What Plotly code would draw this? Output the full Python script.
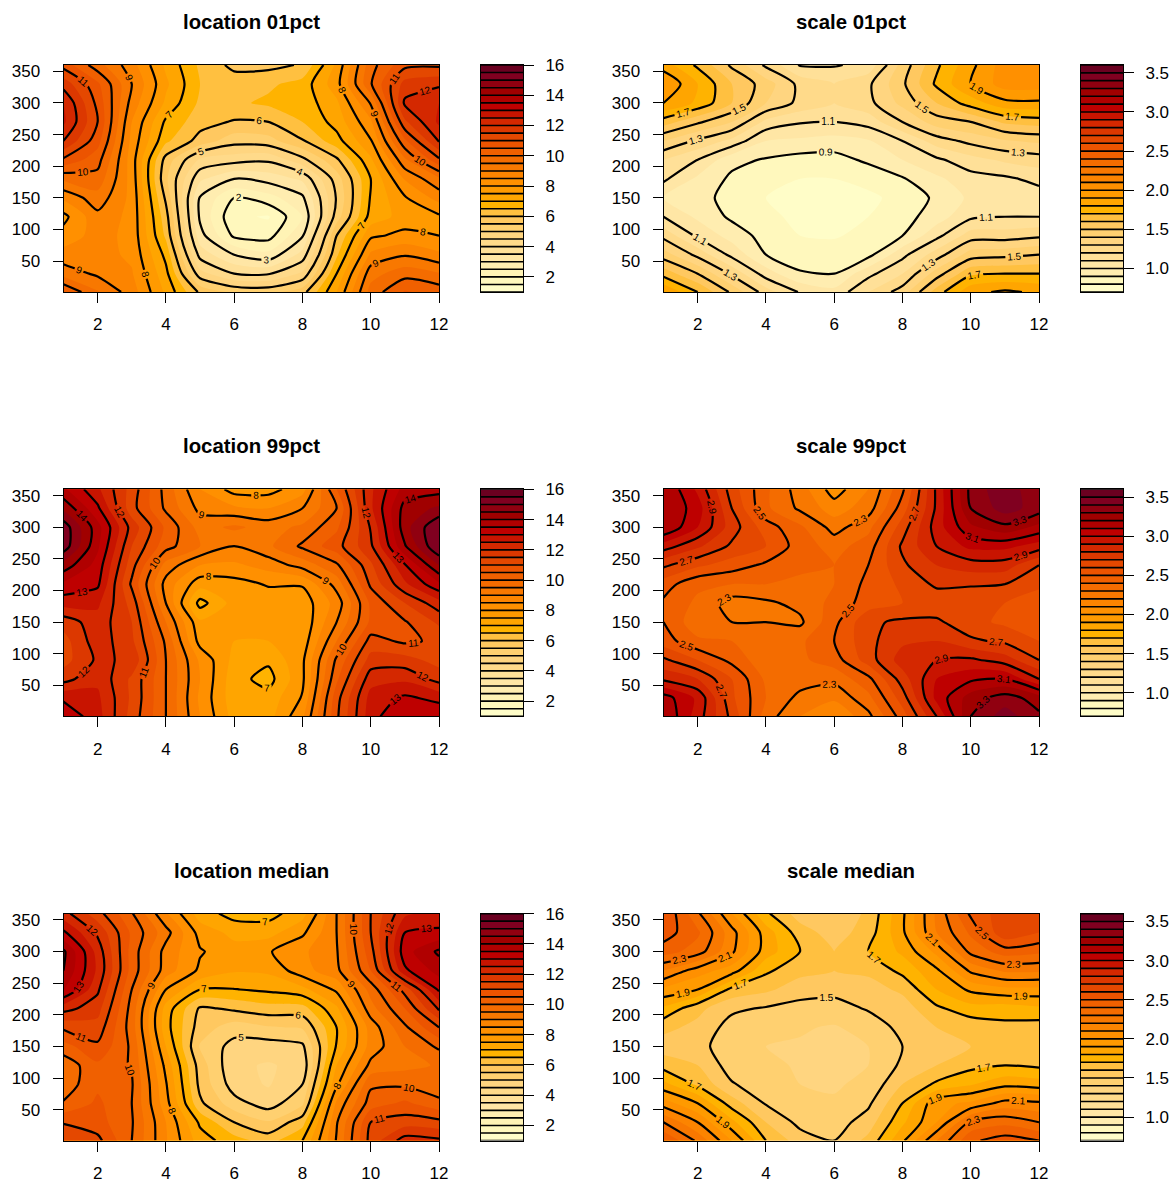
import numpy as np
import plotly.graph_objects as go

months = list(range(1, 13))
days = [360, 330, 300, 270, 240, 210, 180, 150, 120, 90, 60, 30, 1]

location_01pct = [
    [10.8, 9.7, 8.7, 7.4, 6.4, 5.85, 5.85, 6.05, 7.6, 9.8, 10.85, 10.9],
    [11.8, 10.6, 9.0, 7.6, 6.5, 6.3, 6.4, 6.7, 7.8, 9.95, 11.7, 11.9],
    [12.5, 10.85, 8.8, 7.4, 6.4, 6.4, 6.6, 6.7, 7.4, 9.05, 12.1, 12.5],
    [12.6, 11.0, 8.5, 6.9, 6.2, 5.95, 6.0, 6.5, 7.2, 8.4, 11.4, 12.6],
    [12.0, 10.7, 8.35, 6.6, 5.8, 5.2, 5.3, 5.95, 6.8, 7.95, 10.4, 12.05],
    [10.9, 10.2, 8.25, 5.8, 4.4, 4.2, 4.1, 4.85, 5.9, 7.4, 9.4, 10.9],
    [9.6, 9.8, 8.3, 5.6, 3.6, 3.0, 3.2, 3.6, 5.25, 7.0, 8.55, 9.4],
    [8.6, 9.3, 8.35, 5.9, 2.95, 2.0, 2.3, 2.9, 5.05, 7.05, 7.95, 8.7],
    [7.85, 8.85, 8.35, 6.2, 2.9, 1.6, 1.45, 2.5, 5.25, 7.2, 7.7, 7.9],
    [8.2, 8.7, 8.35, 6.4, 3.2, 1.9, 1.8, 2.95, 6.0, 7.9, 8.15, 8.0],
    [8.7, 8.7, 8.4, 6.85, 3.8, 3.0, 2.65, 3.7, 6.4, 8.6, 8.95, 8.6],
    [9.3, 8.9, 8.55, 7.15, 4.7, 4.0, 3.95, 4.6, 7.0, 9.3, 9.8, 9.55],
    [10.5, 9.55, 8.75, 7.4, 5.9, 5.4, 5.35, 5.8, 7.5, 9.7, 10.55, 10.3],
]

location_99pct = [
    [13.6, 12.6, 11.3, 9.8, 8.5, 7.8, 7.8, 8.3, 10.5, 12.4, 13.7, 13.8],
    [14.4, 13.1, 11.2, 9.9, 8.85, 8.6, 8.5, 9.0, 10.0, 12.4, 14.2, 14.6],
    [15.3, 13.7, 11.8, 10.4, 9.3, 9.6, 9.3, 9.6, 10.4, 12.05, 14.3, 15.5],
    [15.3, 13.6, 11.5, 10.2, 9.5, 9.0, 9.4, 10.1, 10.8, 11.9, 13.95, 15.5],
    [14.3, 13.3, 11.2, 9.3, 8.5, 8.4, 8.7, 9.2, 9.9, 11.4, 12.95, 14.5],
    [13.4, 13.1, 10.9, 8.8, 7.7, 7.8, 8.05, 8.05, 9.2, 11.1, 12.4, 13.4],
    [12.7, 12.6, 11.3, 9.0, 6.8, 7.7, 7.7, 7.7, 8.7, 10.6, 11.5, 12.3],
    [11.7, 12.3, 11.5, 9.5, 7.6, 7.65, 7.6, 7.6, 9.0, 10.6, 10.95, 11.6],
    [11.3, 12.3, 11.6, 9.9, 7.8, 7.5, 7.5, 7.7, 9.5, 11.2, 10.9, 11.1],
    [11.3, 12.1, 11.9, 10.0, 8.4, 7.35, 7.1, 7.9, 10.1, 11.7, 11.7, 11.3],
    [11.8, 12.4, 11.4, 10.0, 8.5, 7.2, 6.8, 7.9, 10.4, 12.3, 12.4, 11.8],
    [12.9, 12.6, 11.4, 10.0, 8.4, 7.2, 7.2, 8.05, 10.8, 12.7, 13.1, 12.85],
    [13.4, 12.7, 11.3, 10.0, 8.5, 7.3, 7.3, 8.4, 10.9, 12.8, 13.5, 13.4],
]

location_median = [
    [12.2, 11.2, 10.05, 8.55, 7.25, 6.8, 6.8, 7.3, 9.0, 11.0, 12.4, 12.7],
    [13.1, 11.9, 10.4, 9.2, 7.8, 7.35, 7.3, 7.9, 9.0, 11.0, 13.0, 13.1],
    [14.1, 12.3, 10.3, 8.8, 8.05, 7.7, 7.95, 8.4, 8.95, 10.8, 13.3, 14.1],
    [14.0, 12.4, 10.3, 8.75, 7.9, 7.55, 7.6, 8.3, 8.85, 10.5, 12.9, 13.7],
    [13.6, 12.1, 10.0, 8.0, 7.0, 6.98, 7.1, 7.35, 8.1, 9.7, 11.2, 13.1],
    [12.2, 11.7, 9.8, 7.3, 5.9, 6.1, 6.3, 6.3, 7.4, 9.3, 10.5, 12.1],
    [11.1, 11.3, 9.75, 7.2, 5.75, 5.25, 5.45, 5.55, 7.0, 8.7, 9.9, 11.0],
    [10.3, 10.9, 9.9, 7.5, 5.45, 4.8, 4.75, 4.9, 7.05, 8.7, 9.5, 10.1],
    [9.65, 10.4, 9.95, 7.85, 5.75, 4.6, 4.45, 4.65, 7.5, 9.15, 9.35, 9.55],
    [9.7, 10.4, 10.05, 8.05, 5.85, 4.75, 4.45, 5.0, 7.9, 9.9, 9.9, 9.65],
    [10.05, 10.6, 10.0, 8.2, 6.1, 5.2, 4.75, 5.4, 8.6, 10.25, 10.6, 10.15],
    [10.95, 10.7, 10.05, 8.5, 6.9, 6.0, 5.55, 6.3, 8.95, 11.0, 11.25, 11.15],
    [11.5, 11.15, 10.0, 8.55, 7.25, 6.7, 6.3, 7.0, 9.05, 11.2, 12.25, 12.1],
]

scale_01pct = [
    [1.85, 1.68, 1.48, 1.28, 1.09, 1.09, 1.13, 1.44, 1.68, 1.87, 2.05, 2.05],
    [2.0, 1.8, 1.6, 1.45, 1.27, 1.2, 1.28, 1.48, 1.72, 1.9, 2.05, 2.05],
    [1.9, 1.78, 1.6, 1.4, 1.27, 1.2, 1.27, 1.43, 1.6, 1.75, 1.87, 1.88],
    [1.65, 1.52, 1.4, 1.17, 1.11, 1.1, 1.14, 1.3, 1.45, 1.5, 1.62, 1.65],
    [1.4, 1.28, 1.17, 1.0, 0.98, 0.96, 0.99, 1.1, 1.25, 1.33, 1.39, 1.42],
    [1.2, 1.1, 0.93, 0.89, 0.86, 0.86, 0.92, 1.0, 1.08, 1.16, 1.22, 1.25],
    [1.12, 0.98, 0.88, 0.82, 0.8, 0.8, 0.83, 0.89, 0.98, 1.06, 1.08, 1.13],
    [1.0, 0.94, 0.86, 0.8, 0.77, 0.76, 0.78, 0.83, 0.92, 1.02, 1.03, 1.05],
    [1.1, 0.98, 0.88, 0.82, 0.78, 0.77, 0.8, 0.86, 0.95, 1.08, 1.1, 1.1],
    [1.27, 1.08, 0.96, 0.86, 0.8, 0.79, 0.83, 0.9, 1.07, 1.25, 1.25, 1.28],
    [1.45, 1.27, 1.07, 0.9, 0.85, 0.85, 0.87, 1.07, 1.25, 1.45, 1.47, 1.5],
    [1.66, 1.5, 1.28, 1.05, 0.91, 0.9, 1.07, 1.2, 1.45, 1.68, 1.7, 1.7],
    [1.9, 1.7, 1.48, 1.25, 1.09, 1.03, 1.2, 1.35, 1.65, 1.87, 1.92, 1.88],
]

scale_99pct = [
    [3.2, 2.98, 2.65, 2.42, 2.25, 2.05, 2.2, 2.48, 2.92, 3.33, 3.48, 3.3],
    [3.2, 3.05, 2.7, 2.42, 2.28, 2.15, 2.25, 2.55, 2.92, 3.3, 3.45, 3.35],
    [3.2, 3.0, 2.75, 2.55, 2.42, 2.26, 2.37, 2.65, 2.95, 3.18, 3.27, 3.17],
    [2.95, 2.82, 2.68, 2.6, 2.45, 2.36, 2.45, 2.72, 2.9, 3.03, 3.03, 2.95],
    [2.72, 2.62, 2.55, 2.48, 2.42, 2.4, 2.5, 2.68, 2.8, 2.85, 2.85, 2.7],
    [2.55, 2.42, 2.4, 2.4, 2.38, 2.4, 2.53, 2.62, 2.72, 2.71, 2.7, 2.62],
    [2.48, 2.38, 2.25, 2.28, 2.33, 2.43, 2.55, 2.6, 2.63, 2.63, 2.6, 2.55],
    [2.5, 2.33, 2.3, 2.3, 2.28, 2.47, 2.68, 2.72, 2.72, 2.63, 2.58, 2.55],
    [2.55, 2.42, 2.4, 2.37, 2.38, 2.5, 2.67, 2.78, 2.8, 2.72, 2.68, 2.6],
    [2.72, 2.6, 2.47, 2.33, 2.38, 2.45, 2.65, 2.85, 2.9, 2.92, 2.85, 2.7],
    [2.88, 2.8, 2.6, 2.38, 2.35, 2.33, 2.47, 2.75, 3.0, 3.08, 3.1, 2.9],
    [3.15, 2.98, 2.62, 2.4, 2.27, 2.22, 2.37, 2.65, 3.03, 3.25, 3.35, 3.25],
    [3.2, 2.95, 2.67, 2.35, 2.2, 2.1, 2.27, 2.55, 2.9, 3.3, 3.45, 3.32],
]

scale_median = [
    [2.6, 2.32, 2.0, 1.72, 1.55, 1.52, 1.62, 1.88, 2.22, 2.52, 2.66, 2.62],
    [2.55, 2.42, 2.14, 1.85, 1.65, 1.55, 1.65, 1.88, 2.2, 2.42, 2.68, 2.6],
    [2.45, 2.35, 2.12, 1.85, 1.7, 1.6, 1.7, 1.82, 2.03, 2.33, 2.45, 2.42],
    [2.2, 2.05, 1.95, 1.72, 1.63, 1.6, 1.62, 1.73, 1.88, 2.12, 2.22, 2.22],
    [1.98, 1.9, 1.67, 1.62, 1.55, 1.53, 1.56, 1.62, 1.8, 1.92, 1.97, 1.97],
    [1.78, 1.63, 1.52, 1.49, 1.46, 1.46, 1.51, 1.55, 1.68, 1.76, 1.75, 1.78],
    [1.63, 1.57, 1.46, 1.43, 1.41, 1.39, 1.44, 1.53, 1.6, 1.63, 1.67, 1.65],
    [1.55, 1.54, 1.43, 1.4, 1.39, 1.38, 1.4, 1.5, 1.56, 1.6, 1.63, 1.62],
    [1.66, 1.6, 1.45, 1.42, 1.39, 1.38, 1.4, 1.52, 1.6, 1.67, 1.7, 1.68],
    [1.83, 1.68, 1.51, 1.44, 1.4, 1.39, 1.42, 1.6, 1.72, 1.79, 1.87, 1.85],
    [2.05, 1.9, 1.65, 1.49, 1.42, 1.41, 1.48, 1.7, 1.97, 2.02, 2.14, 2.12],
    [2.3, 2.1, 1.83, 1.6, 1.47, 1.45, 1.55, 1.78, 2.0, 2.32, 2.37, 2.3],
    [2.5, 2.28, 2.0, 1.7, 1.55, 1.5, 1.63, 1.88, 2.2, 2.48, 2.55, 2.5],
]

location_colors = [
    "#FFFDC8", "#FFF8BD", "#FFF3B5", "#FFEDB0", "#FFE6A5", "#FFE098", "#FFDA8A", "#FFD580",
    "#FFD070", "#FFC860", "#FFC040", "#FFB300", "#FFA500", "#FF9A00", "#FF9000", "#FC8400",
    "#F87800", "#F46C00", "#F06000", "#EC5400", "#E44800", "#DC3800", "#D42800", "#C81400",
    "#BE0000", "#B00000", "#A00000", "#900010", "#800020", "#6B0020",
]
scale_colors = [c for c in location_colors if c != "#FFF3B5"]

location_ticks = [2, 4, 6, 8, 10, 12, 14, 16]
scale_ticks = [1.0, 1.5, 2.0, 2.5, 3.0, 3.5]
x_ticks = [2, 4, 6, 8, 10, 12]
y_ticks = [50, 100, 150, 200, 250, 300, 350]

panels = [
    ("location 01pct", location_01pct, "loc", 0, 0),
    ("scale 01pct", scale_01pct, "sca", 1, 0),
    ("location 99pct", location_99pct, "loc", 0, 1),
    ("scale 99pct", scale_99pct, "sca", 1, 1),
    ("location median", location_median, "loc", 0, 2),
    ("scale median", scale_median, "sca", 1, 2),
]

W, H = 1173, 1180
FONT = "Liberation Sans, Arial, sans-serif"
SPEC = {
    "loc": dict(lo=1.0, hi=16.0, step=0.5, colors=location_colors, ticks=location_ticks,
                fmt="d", lstart=1, lend=16, lstep=1),
    "sca": dict(lo=0.7, hi=3.6, step=0.1, colors=scale_colors, ticks=scale_ticks,
                fmt=".1f", lstart=0.9, lend=3.5, lstep=0.2),
}


def fx(px):
    return px / W


def fy(py):
    return 1 - py / H


def step_scale(colors):
    n = len(colors)
    out = []
    for i, c in enumerate(colors):
        out += [[i / n, c], [(i + 1) / n, c]]
    return out


fig = go.Figure()
layout = {}
annotations = []
AXIS = dict(showgrid=False, zeroline=False, showline=True, linecolor="black", linewidth=1,
            mirror=True, ticks="outside", ticklen=10, tickwidth=1, tickcolor="black",
            automargin=False, tickfont=dict(family=FONT, size=17, color="black"))

for i, (title, rows, kind, col, row) in enumerate(panels):
    s = SPEC[kind]
    z = np.array(rows)[::-1]
    y = days[::-1]
    n = 2 * i + 1
    xa, ya = f"x{n}", f"y{n}"
    xc, yc = f"x{n + 1}", f"y{n + 1}"
    px0 = 63.5 + 600 * col
    px1 = 439 + 600 * col
    py0 = 65 + 424.3 * row
    py1 = 292 + 424.3 * row
    cs = step_scale(s["colors"])

    fig.add_trace(go.Contour(
        x=months, y=y, z=z, xaxis=xa, yaxis=ya, colorscale=cs, zmin=s["lo"], zmax=s["hi"],
        autocontour=False, showscale=False, hoverinfo="skip",
        contours=dict(start=s["lo"], end=s["hi"], size=s["step"], coloring="fill"),
        line=dict(width=0, smoothing=0.7),
    ))
    fig.add_trace(go.Contour(
        x=months, y=y, z=z, xaxis=xa, yaxis=ya, autocontour=False, showscale=False,
        hoverinfo="skip",
        contours=dict(start=s["lstart"], end=s["lend"], size=s["lstep"], coloring="none",
                      showlabels=True,
                      labelfont=dict(family=FONT, size=10, color="black"),
                      labelformat=".1f" if kind == "sca" else "d"),
        line=dict(width=2.2, color="black", smoothing=0.7),
    ))

    layout[f"xaxis{n}"] = dict(AXIS, domain=[fx(px0), fx(px1)], anchor=ya, range=[1, 12],
                               tickvals=x_ticks, ticklabelstandoff=7)
    layout[f"yaxis{n}"] = dict(AXIS, domain=[fy(py1), fy(py0)], anchor=xa, range=[1, 360],
                               tickvals=y_ticks, ticklabelstandoff=9)

    levels = np.arange(len(s["colors"]) + 1) * s["step"] + s["lo"]
    mids = (levels[:-1] + levels[1:]) / 2
    fig.add_trace(go.Heatmap(
        x=[0, 1], y=levels, z=mids.reshape(-1, 1), xaxis=xc, yaxis=yc, colorscale=cs,
        zmin=s["lo"], zmax=s["hi"], showscale=False, hoverinfo="skip",
    ))
    sx, sy = [], []
    for lv in levels:
        sx += [0, 1, None]
        sy += [lv, lv, None]
    fig.add_trace(go.Scatter(x=sx, y=sy, xaxis=xc, yaxis=yc, mode="lines",
                             line=dict(color="black", width=1.6), hoverinfo="skip",
                             showlegend=False))
    bx0 = 481 + 600 * col
    bx1 = 523 + 600 * col
    layout[f"xaxis{n + 1}"] = dict(domain=[fx(bx0), fx(bx1)], anchor=yc, range=[0, 1],
                                   showgrid=False, zeroline=False, showticklabels=False,
                                   ticks="", showline=True, linecolor="black", linewidth=1,
                                   mirror=True, automargin=False)
    layout[f"yaxis{n + 1}"] = dict(AXIS, domain=[fy(py1), fy(py0)], anchor=xc, side="right",
                                   range=[s["lo"], s["hi"]], tickvals=s["ticks"],
                                   tickformat=".1f" if kind == "sca" else "d",
                                   ticklabelstandoff=8)
    annotations.append(dict(
        text=f"<b>{title}</b>", xref="paper", yref="paper", x=fx((px0 + px1) / 2),
        y=fy(22 + 424.3 * row), xanchor="center", yanchor="middle", showarrow=False,
        font=dict(family=FONT, size=20.4, color="black"),
    ))

fig.update_layout(
    width=W, height=H, autosize=False, margin=dict(l=0, r=0, t=0, b=0),
    paper_bgcolor="white", plot_bgcolor="white", showlegend=False,
    annotations=annotations, font=dict(family=FONT), **layout,
)
fig.write_html("out.html", post_script="document.body.style.margin='0';document.documentElement.style.overflow='hidden';",
               config={"displayModeBar": False})
